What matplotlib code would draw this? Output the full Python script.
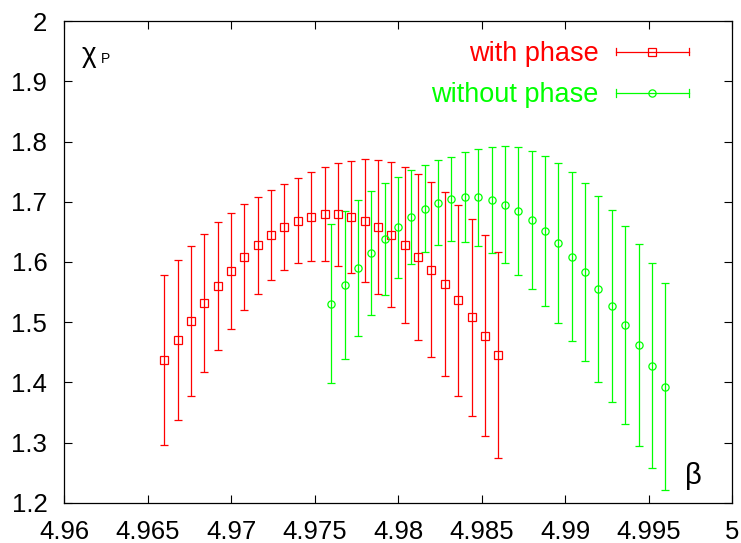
import numpy as np
import matplotlib
matplotlib.use('Agg')
import matplotlib.pyplot as plt
from matplotlib.legend_handler import HandlerLine2D
from matplotlib.lines import Line2D

plt.rcParams['font.family'] = ['Liberation Sans', 'DejaVu Sans']

# beta values
beta_with = 4.966 + 0.0008 * np.arange(26)
beta_without = 4.976 + 0.0008 * np.arange(26)

chi_with = [1.437, 1.4705, 1.502, 1.532, 1.5596, 1.585, 1.6078, 1.6277, 1.6443, 1.658,
            1.6686, 1.6753, 1.679, 1.679, 1.675, 1.6686, 1.658, 1.645, 1.628, 1.6088,
            1.5873, 1.563, 1.5364, 1.508, 1.4777, 1.4461]
err_with = [0.141, 0.133, 0.124, 0.115, 0.106, 0.097, 0.088, 0.080, 0.075, 0.071,
            0.0705, 0.0737, 0.078, 0.085, 0.093, 0.102, 0.1115, 0.1205, 0.1296, 0.1378,
            0.1455, 0.1527, 0.1588, 0.1635, 0.1673, 0.171]

chi_without = [1.531, 1.5613, 1.5895, 1.6149, 1.6382, 1.6576, 1.6747, 1.6885, 1.6985, 1.7046,
               1.708, 1.7073, 1.7029, 1.6952, 1.6841, 1.6697, 1.652, 1.6315, 1.6088, 1.5834,
               1.5557, 1.5265, 1.495, 1.4617, 1.428, 1.393]
err_without = [0.132, 0.1228, 0.113, 0.103, 0.0935, 0.0843, 0.0775, 0.0722, 0.070, 0.0703,
               0.0743, 0.080, 0.0885, 0.097, 0.106, 0.115, 0.1245, 0.1333, 0.1406, 0.1477,
               0.1545, 0.1595, 0.1643, 0.1676, 0.1705, 0.172]

xticks = [4.96, 4.965, 4.97, 4.975, 4.98, 4.985, 4.99, 4.995, 5.0]
xticklabels = ['4.96', '4.965', '4.97', '4.975', '4.98', '4.985', '4.99', '4.995', '5']
yticks = [1.2, 1.3, 1.4, 1.5, 1.6, 1.7, 1.8, 1.9, 2.0]
yticklabels = ['1.2', '1.3', '1.4', '1.5', '1.6', '1.7', '1.8', '1.9', '2']

red = '#ff0000'
green = '#00ff00'
fs = 18.5
legfs = 19.5


class CapHandler(HandlerLine2D):
    # horizontal error bar sample with caps at both ends, like gnuplot's key
    def create_artists(self, legend, orig_handle, xdescent, ydescent,
                       width, height, fontsize, trans):
        arts = super().create_artists(legend, orig_handle, xdescent, ydescent,
                                      width, height, fontsize, trans)
        y = height / 2 - ydescent
        for x in (-xdescent, width - xdescent):
            cap = Line2D([x, x], [y - 2.6, y + 2.6], color=orig_handle.get_color(),
                         lw=orig_handle.get_linewidth())
            cap.set_transform(trans)
            arts.append(cap)
        return arts


fig = plt.figure(figsize=(7.41, 5.43), dpi=100)
ax = fig.add_axes([0.0864, 0.0737, 0.9015, 0.8876])

ax.errorbar(beta_with, chi_with, yerr=err_with, fmt='s', color=red, mfc='none',
            ms=5.2, mew=0.9, elinewidth=0.9, capsize=2.6, capthick=0.9)
ax.errorbar(beta_without, chi_without, yerr=err_without, fmt='o', color=green, mfc='none',
            ms=5.2, mew=0.9, elinewidth=0.9, capsize=2.6, capthick=0.9)

ax.set_xlim(4.96, 5.0)
ax.set_ylim(1.2, 2.0)
ax.set_xticks(xticks)
ax.set_xticklabels(xticklabels)
ax.set_yticks(yticks)
ax.set_yticklabels(yticklabels)
ax.tick_params(direction='in', length=6, width=0.8, top=True, right=True,
               labelsize=fs, colors='black')
ax.tick_params(axis='x', pad=12)
ax.tick_params(axis='y', pad=12)
for s in ax.spines.values():
    s.set_linewidth(0.9)

# chi_P label: big chi with a small P next to it
ax.text(0.026, 0.915, 'χ', transform=ax.transAxes, fontsize=20,
        va='baseline', ha='left')
ax.text(0.0554, 0.9129, 'P', transform=ax.transAxes, fontsize=10,
        va='baseline', ha='left')
ax.text(0.9296, 0.056, 'β', transform=ax.transAxes, fontsize=21,
        va='center', ha='left')

h1 = Line2D([], [], color=red, marker='s', mfc='none', ms=5.2, mew=0.9, lw=0.9)
h2 = Line2D([], [], color=green, marker='o', mfc='none', ms=5.2, mew=0.9, lw=0.9)
leg = ax.legend([h1, h2], ['with phase', 'without phase'], loc='upper right',
                bbox_to_anchor=(0.9356, 0.958), frameon=False, markerfirst=False,
                fontsize=legfs, handlelength=2.7, handletextpad=0.63, labelspacing=0.56,
                numpoints=1, borderpad=0, borderaxespad=0,
                handler_map={Line2D: CapHandler()})
for t, c in zip(leg.get_texts(), [red, green]):
    t.set_color(c)

fig.savefig('out.png', dpi=100)
